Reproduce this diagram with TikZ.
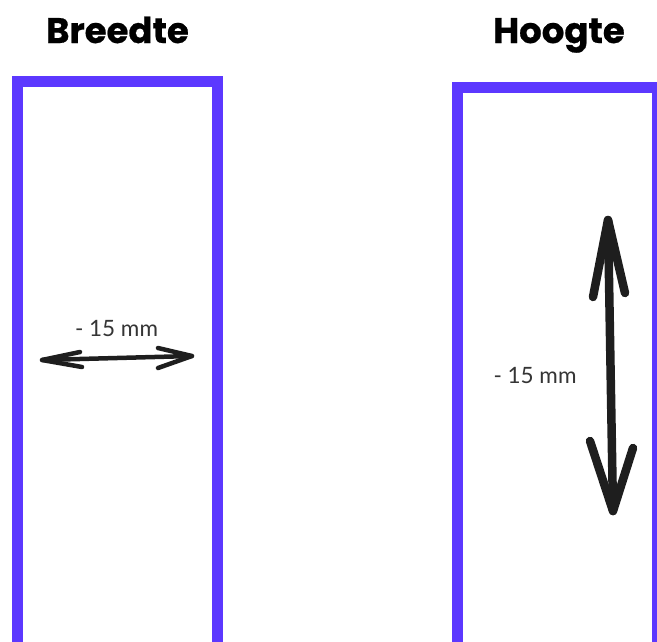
\documentclass[tikz,border=0pt]{standalone}
\usepackage{fontspec}
\newfontfamily\titlefont{Poppins}[UprightFont=* Bold,FakeBold=0.6]
\newfontfamily\labelfont{Lato}
\definecolor{frame}{RGB}{92,56,255}
\definecolor{ink}{RGB}{30,30,30}
\begin{document}
\begin{tikzpicture}[x=1pt,y=-1pt,
  frameline/.style={draw=frame,line width=11pt,line join=miter},
  arrowline/.style={draw=ink,line cap=round,line join=round},
  title/.style={font=\titlefont\fontsize{35.5}{38}\selectfont,anchor=base,inner sep=0pt},
  dimlabel/.style={font=\labelfont\fontsize{22.5}{26}\selectfont,anchor=base,inner sep=0pt,text=ink!90}]
\useasboundingbox (0,0) rectangle (657,641);
\clip (0,0) rectangle (657,641);
% titles
\node[title] (tb) at (117.5,43) {Breedte};
\node[title] (th) at (559,43) {Hoogte};
% frames
\draw[frameline] (17,660) -- (17,81) -- (217.5,81) -- (217.5,660);
\draw[frameline] (457,660) -- (457,87.5) -- (657,87.5) -- (657,660);
% width arrow
\coordinate (wl) at (42,360);
\coordinate (wr) at (192,356);
\draw[arrowline,line width=4.5pt] (wl) -- (wr);
\draw[arrowline,line width=4.5pt] (80,352) -- (wl) -- (82,367);
\draw[arrowline,line width=4.5pt] (158,348) -- (wr) -- (158,368);
\node[dimlabel] (wlab) at (116.5,336) {- 15 mm};
% height arrow
\coordinate (ht) at (608,220);
\coordinate (hb) at (613,511);
\draw[arrowline,line width=8.5pt] (ht) -- (hb);
\draw[arrowline,line width=8.5pt] (593,297) -- (ht) -- (625,293);
\draw[arrowline,line width=8.5pt] (590,441) -- (hb) -- (633,448);
\node[dimlabel] (hlab) at (535,383) {- 15 mm};
\end{tikzpicture}
\end{document}
